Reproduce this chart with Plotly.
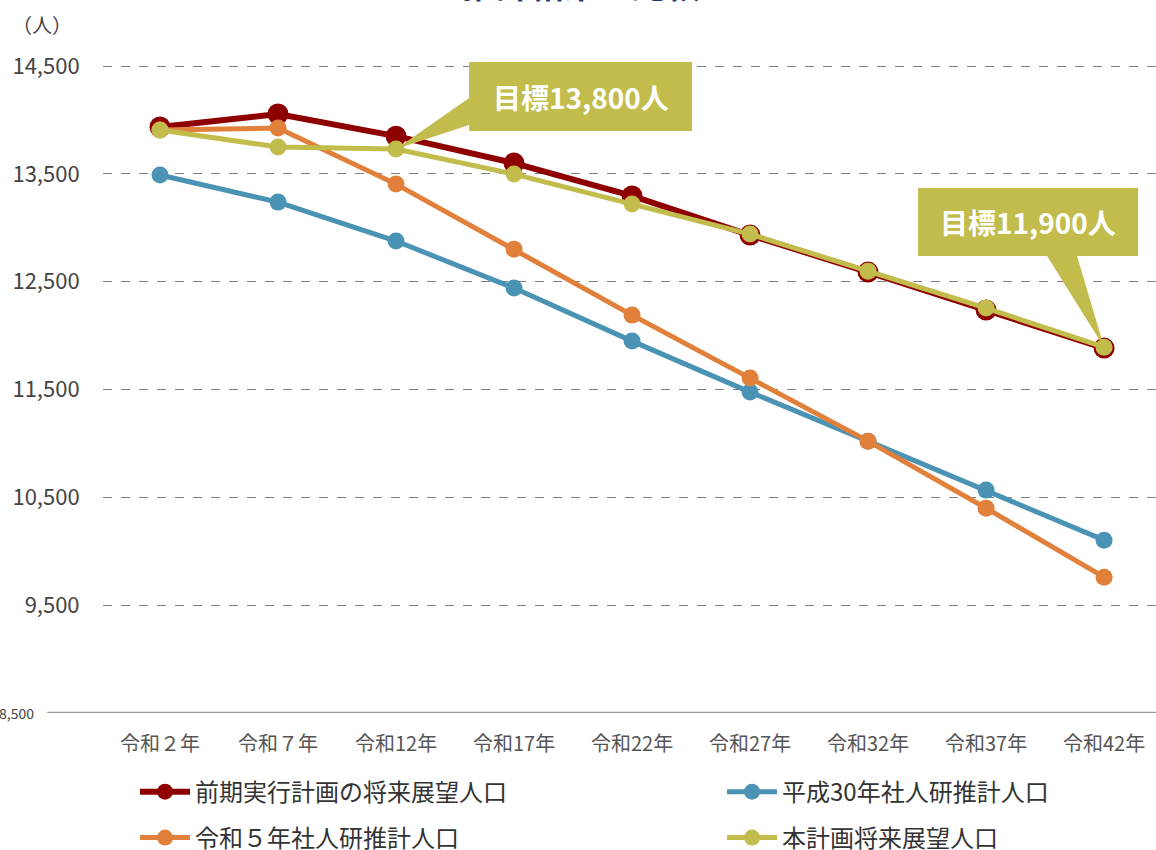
import plotly.graph_objects as go

categories = ["令和２年", "令和７年", "令和12年", "令和17年", "令和22年",
              "令和27年", "令和32年", "令和37年", "令和42年"]
prev_plan = [13935, 14055, 13850, 13600, 13295, 12932, 12589, 12237, 11884]
h30_ipss = [13489, 13238, 12877, 12441, 11949, 11476, 11021, 10567, 10103]
r5_ipss = [13906, 13925, 13405, 12802, 12190, 11606, 11021, 10400, 9760]
this_plan = [13906, 13749, 13730, 13498, 13220, 12942, 12598, 12255, 11893]

y_ticks = [8500, 9500, 10500, 11500, 12500, 13500, 14500]
y_tick_text = ["", "9,500", "10,500", "11,500", "12,500", "13,500", "14,500"]

names = ["前期実行計画の将来展望人口", "平成30年社人研推計人口",
         "令和５年社人研推計人口", "本計画将来展望人口"]
colors = ["#8E0000", "#4A93B4", "#E0803B", "#C2BC4C"]
series = [prev_plan, h30_ipss, r5_ipss, this_plan]
msizes = [21, 17, 17, 17]
lwidths = [6, 5, 5, 5]
legends = ["legend", "legend2", "legend3", "legend4"]
# legend placement (container coords): column x, row y
leg_pos = [(0.1168, 0.0682), (0.6246, 0.0682), (0.1168, 0.0141), (0.6246, 0.0141)]

FONT = "Noto Sans CJK JP"
BOX = "#C2BC4C"

fig = go.Figure()
for nm, c, s, ms, lw, lg in zip(names, colors, series, msizes, lwidths, legends):
    fig.add_trace(go.Scatter(
        x=categories, y=s, name=nm, mode="lines+markers",
        line=dict(color=c, width=lw),
        marker=dict(color=c, size=ms),
        legend=lg, hoverinfo="skip",
    ))

# callout 1: target 13,800 pointing to this_plan at 令和12年
fig.add_shape(type="path", xref="x", yref="y",
              path=f"M 2.619 14537 L 4.508 14537 L 4.508 13897 L 2.619 13897 L 2.619 13953 L 2 {this_plan[2]} L 2.619 14203 Z",
              fillcolor=BOX, line=dict(width=0), layer="above")
fig.add_annotation(x=3.5635, y=14217, xref="x", yref="y", text="<b>目標13,800人</b>",
                   showarrow=False, font=dict(family=FONT, size=28, color="white"))
# callout 2: target 11,900 pointing to this_plan at 令和42年
fig.add_shape(type="path", xref="x", yref="y",
              path=f"M 6.424 13369 L 8.288 13369 L 8.288 12738 L 7.771 12738 L 8 {this_plan[8]} L 7.517 12738 L 6.424 12738 Z",
              fillcolor=BOX, line=dict(width=0), layer="above")
fig.add_annotation(x=7.356, y=13053, xref="x", yref="y", text="<b>目標11,900人</b>",
                   showarrow=False, font=dict(family=FONT, size=28, color="white"))

# baseline
fig.add_shape(type="line", xref="paper", yref="y", x0=-0.053, x1=1, y0=8500, y1=8500,
              line=dict(color="#9A9A9A", width=2.5), layer="above")
# lowest y tick label (drawn smaller, as in the reference)
fig.add_annotation(x=-0.0636, y=y_ticks[0], xref="paper", yref="y", text="8,500",
                   showarrow=False, xanchor="right", yanchor="middle",
                   font=dict(family=FONT, size=14, color="#444444"))

# title (cut off at top) and unit label
fig.add_annotation(x=0.454, y=1.052, xref="paper", yref="paper", text="<b>推計結果の比較</b>",
                   showarrow=False, xanchor="center", yanchor="middle",
                   font=dict(family=FONT, size=34, color="#1F3C6E"))
fig.add_annotation(x=-0.058, y=0.994, xref="paper", yref="paper", text="（人）",
                   showarrow=False, xanchor="center", yanchor="middle",
                   font=dict(family=FONT, size=20, color="#444444"))

leg_common = dict(orientation="h", xref="container", yref="container",
                  xanchor="left", yanchor="middle", itemwidth=50,
                  font=dict(family=FONT, size=24, color="#333333"),
                  bgcolor="rgba(0,0,0,0)")
legend_layout = {}
for lg, (lx, ly) in zip(legends, leg_pos):
    legend_layout[lg] = dict(leg_common, x=lx, y=ly)

fig.update_layout(
    width=1156, height=850,
    margin=dict(l=103, r=0, t=20, b=137),
    paper_bgcolor="white", plot_bgcolor="white",
    font=dict(family=FONT, color="#444444"),
    showlegend=True,
    xaxis=dict(type="category", categoryorder="array", categoryarray=categories,
               range=[-0.483, 8.44], showgrid=False, zeroline=False, showline=False,
               ticks="outside", ticklen=13, tickcolor="rgba(0,0,0,0)",
               tickfont=dict(family=FONT, size=20, color="#555555")),
    yaxis=dict(range=[8500, 14927], tickvals=y_ticks, ticktext=y_tick_text,
               showgrid=True, gridcolor="#808080", griddash="dash", gridwidth=1.2,
               zeroline=False, showline=False,
               ticks="outside", ticklen=18, tickcolor="rgba(0,0,0,0)",
               tickfont=dict(family=FONT, size=22, color="#444444")),
    **legend_layout,
)

fig.write_html("out.html", config={"displayModeBar": False},
               post_script="document.body.style.margin='0';")
